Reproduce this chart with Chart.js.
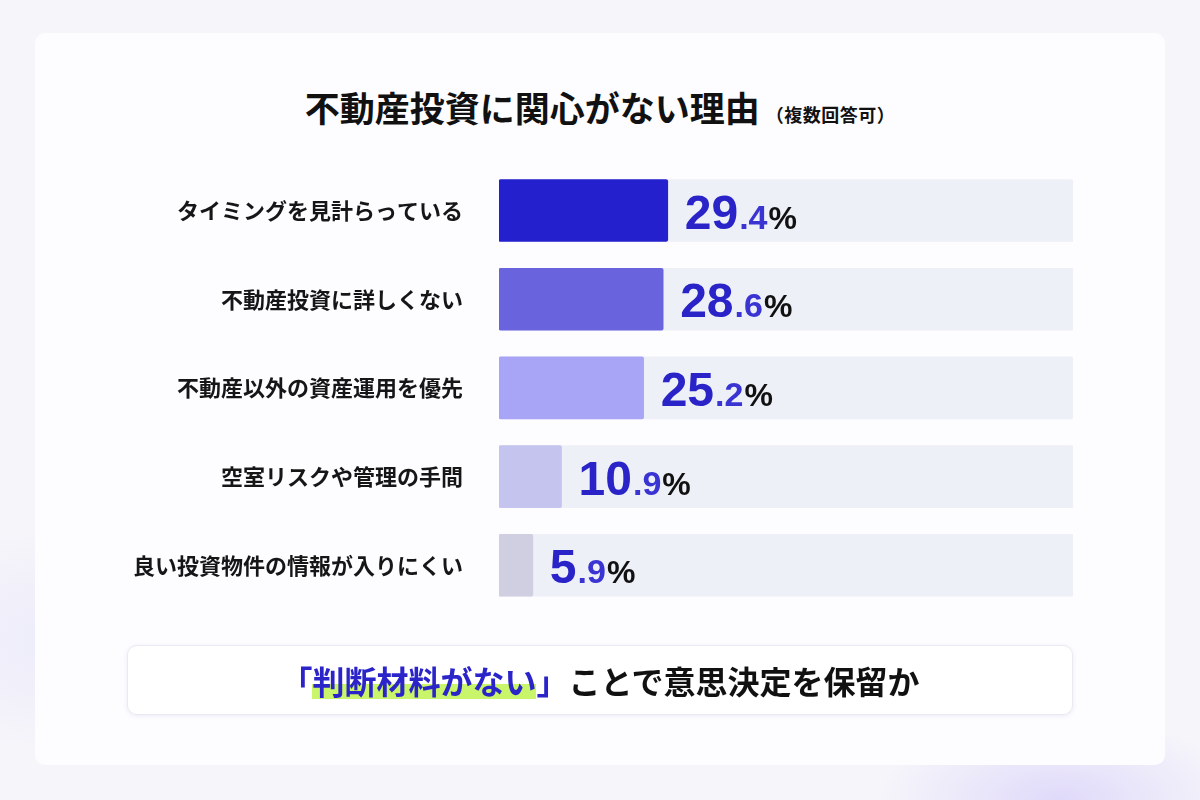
<!DOCTYPE html>
<html lang="ja">
<head>
<meta charset="utf-8">
<script src="https://cdn.jsdelivr.net/npm/chart.js@4.4.1/dist/chart.umd.min.js"></script>
<style>
  html, body { margin: 0; padding: 0; }
  body {
    width: 1200px; height: 800px; position: relative; overflow: hidden;
    background:
      radial-gradient(ellipse 260px 120px at 1060px 800px, rgba(214,206,250,0.7), rgba(214,206,250,0) 70%),
      radial-gradient(ellipse 300px 160px at 80px 640px, rgba(228,228,250,0.6), rgba(228,228,250,0) 70%),
      #f6f5fa;
    font-family: "Noto Sans CJK JP", "Noto Sans", sans-serif;
  }
  .card {
    position: absolute; left: 35px; top: 33px; width: 1130px; height: 732px;
    background: #fdfcff; border-radius: 10px;
  }
  .title {
    position: absolute; left: 0; top: 84px; width: 1200px; text-align: center;
    font-size: 35px; font-weight: 700; color: #111; line-height: 46px;
  }
  .title small { font-size: 18px; font-weight: 700; margin-left: 6px; letter-spacing: 0.5px; }
  #wrap { position: absolute; left: 100px; top: 116.6px; width: 1000px; height: 541.8px; }
  .note {
    position: absolute; left: 127px; top: 645px; width: 944px; height: 68px;
    background: #fff; border: 1px solid #ebeaf2; border-radius: 10px;
    box-shadow: 0 1px 4px rgba(90,80,150,0.10);
    text-align: center; line-height: 68px;
    font-size: 32px; font-weight: 700; color: #111;
  }
  .note .blue { color: #2b25c9; }
  .note .mark { background: linear-gradient(transparent 58%, #c8f56a 58%, #c8f56a 92%, transparent 92%); }
</style>
</head>
<body>
<div class="card"></div>
<div class="title">不動産投資に関心がない理由<small>（複数回答可）</small></div>
<div id="wrap"><canvas id="canvas"></canvas></div>
<div class="note"><span class="blue">「<span class="mark">判断材料がない</span>」</span>ことで意思決定を保留か</div>

<script>
// reasons (multiple answers allowed), percent
var reasons = ["タイミングを見計らっている", "不動産投資に詳しくない", "不動産以外の資産運用を優先", "空室リスクや管理の手間", "良い投資物件の情報が入りにくい"];
var shares = [29.4, 28.6, 25.2, 10.9, 5.9];
var trackValues = [100, 100, 100, 100, 100];
var barColors = ["#2420cd", "#6963de", "#a9a5f6", "#c5c4ee", "#d0cee1"];

var valueLabels = {
    id: "valueLabels",
    afterDatasetsDraw: function (chart) {
        var ctx = chart.ctx;
        var meta = chart.getDatasetMeta(0);
        ctx.save();
        ctx.textBaseline = "alphabetic";
        ctx.textAlign = "left";
        meta.data.forEach(function (bar, i) {
            var parts = shares[i].toFixed(1).split(".");
            var x = bar.x + 17;
            var y = bar.y + 18;
            ctx.fillStyle = "#2a24c8";
            ctx.font = "bold 48px 'Liberation Sans', Arial, sans-serif";
            ctx.fillText(parts[0], x, y);
            x += ctx.measureText(parts[0]).width + 1;
            ctx.fillStyle = "#3a34d2";
            ctx.font = "bold 34px 'Liberation Sans', Arial, sans-serif";
            ctx.fillText("." + parts[1], x, y);
            x += ctx.measureText("." + parts[1]).width + 1;
            ctx.fillStyle = "#111";
            ctx.font = "bold 32px 'Liberation Sans', Arial, sans-serif";
            ctx.fillText("%", x, y);
        });
        ctx.restore();
    }
};

var ctx = document.getElementById("canvas").getContext("2d");
var myChart = new Chart(ctx, {
    type: "bar",
    data: {
        labels: reasons,
        datasets: [{
            data: shares,
            backgroundColor: barColors,
            borderRadius: 2,
            borderSkipped: false,
            grouped: false,
            barThickness: 62
        }, {
            data: trackValues,
            backgroundColor: "#eef0f8",
            borderRadius: 2,
            borderSkipped: false,
            grouped: false,
            barThickness: 62
        }]
    },
    options: {
        indexAxis: "y",
        responsive: true,
        maintainAspectRatio: false,
        animation: false,
        layout: {
            padding: { top: 0, bottom: 0, left: 0, right: 27 }
        },
        plugins: {
            legend: { display: false },
            tooltip: { enabled: false }
        },
        scales: {
            x: { display: false, min: 0, max: 100 },
            y: {
                grid: { display: false, drawTicks: false },
                border: { display: false },
                ticks: {
                    padding: 36,
                    color: "#161616",
                    font: { family: "'Noto Sans CJK JP', sans-serif", size: 22, weight: "bold" }
                },
                afterFit: function (scale) { scale.width = 399; }
            }
        }
    },
    plugins: [valueLabels]
});
</script>
</body>
</html>
